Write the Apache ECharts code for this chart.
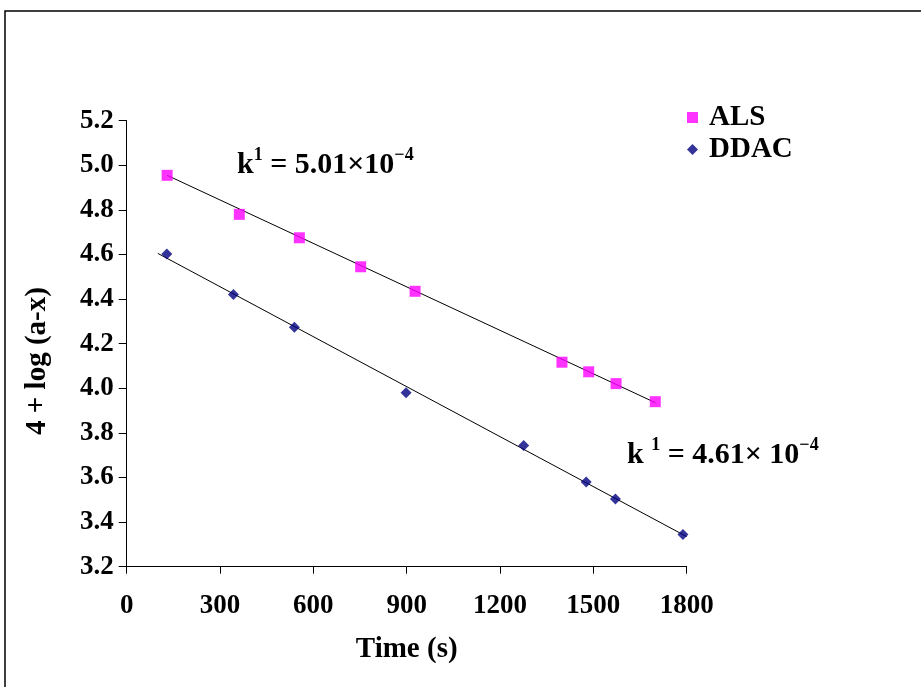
<!DOCTYPE html>
<html>
<head>
<meta charset="utf-8">
<script src="https://cdn.jsdelivr.net/npm/echarts@6/dist/echarts.min.js"></script>
<style>html,body{margin:0;padding:0;background:#fff}#c{width:921px;height:687px}</style>
</head>
<body>
<div id="c"></div>
<script>
// Data
const alsTime = [130, 362, 555, 752, 927, 1399, 1485, 1573, 1699];
const alsValue = [4.955, 4.78, 4.675, 4.545, 4.435, 4.117, 4.074, 4.021, 3.94];
const ddacTime = [129, 343, 539, 898, 1276, 1477, 1571, 1788];
const ddacValue = [4.602, 4.421, 4.274, 3.98, 3.744, 3.58, 3.504, 3.344];
// trend line end points
const alsTrendTime = [130, 1700];
const alsTrendValue = [4.955, 3.935];
const ddacTrendTime = [100, 1800];
const ddacTrendValue = [4.605, 3.335];
const xTicks = [0, 300, 600, 900, 1200, 1500, 1800];
const yTicks = [3.2, 3.4, 3.6, 3.8, 4.0, 4.2, 4.4, 4.6, 4.8, 5.0, 5.2];

const zip = (a, b) => a.map((v, i) => [v, b[i]]);
const FONT = '"Liberation Serif", "Times New Roman", serif';

const chart = echarts.init(document.getElementById('c'), null, {renderer: 'canvas'});
chart.setOption({
  backgroundColor: '#fff',
  animation: false,
  grid: {left: 126.7, right: 234.3, top: 120.7, bottom: 120.3, containLabel: false},
  legend: {
    left: 687, top: 103, orient: 'vertical', padding: 0,
    itemWidth: 11, itemHeight: 11, itemGap: 3,
    data: [{name: 'ALS', icon: 'rect'}, {name: 'DDAC', icon: 'diamond'}],
    textStyle: {fontFamily: FONT, fontWeight: 'bold', fontSize: 29, color: '#000', padding: [0, 0, 0, 6]}
  },
  xAxis: {
    type: 'value', min: xTicks[0], max: xTicks[xTicks.length - 1], interval: 300,
    name: 'Time (s)', nameLocation: 'middle', nameGap: 68,
    nameTextStyle: {fontFamily: FONT, fontWeight: 'bold', fontSize: 29, color: '#000'},
    axisLine: {show: true, lineStyle: {color: '#000', width: 1}},
    axisTick: {show: true, length: 7, inside: false, lineStyle: {color: '#000'}},
    axisLabel: {margin: 26, fontFamily: FONT, fontWeight: 'bold', fontSize: 27, color: '#000',
      formatter: v => String(v)},
    splitLine: {show: false}
  },
  yAxis: {
    type: 'value', min: yTicks[0], max: yTicks[yTicks.length - 1], interval: 0.2,
    axisLine: {show: true, lineStyle: {color: '#000', width: 1}},
    axisTick: {show: true, length: 8, inside: false, lineStyle: {color: '#000'}},
    axisLabel: {margin: 13, fontFamily: FONT, fontWeight: 'bold', fontSize: 27, color: '#000',
      formatter: v => v.toFixed(1)},
    splitLine: {show: false}
  },
  series: [
    {name: 'ALS trend', type: 'line', data: zip(alsTrendTime, alsTrendValue), showSymbol: false,
      lineStyle: {color: '#000', width: 1}, silent: true, z: 1},
    {name: 'DDAC trend', type: 'line', data: zip(ddacTrendTime, ddacTrendValue), showSymbol: false,
      lineStyle: {color: '#000', width: 1}, silent: true, z: 1},
    {name: 'ALS', type: 'scatter', data: zip(alsTime, alsValue), symbol: 'rect', symbolSize: 11,
      itemStyle: {color: '#FF00FF'}, z: 3},
    {name: 'DDAC', type: 'scatter', data: zip(ddacTime, ddacValue), symbol: 'diamond', symbolSize: 11,
      itemStyle: {color: '#000080'}, z: 3}
  ],
  graphic: [
    {type: 'rect', shape: {x: 5, y: 11, width: 960, height: 720}, style: {fill: 'none', stroke: '#000', lineWidth: 1.5}, z: 0, silent: true},
    {type: 'text', x: 38, y: 361, rotation: Math.PI / 2, style: {
      text: '4 + log (a-x)', fontFamily: FONT, fontWeight: 'bold', fontSize: 29, fill: '#000',
      align: 'center', verticalAlign: 'middle'}},
    {type: 'text', left: 237, top: 146, style: {
      text: '{b|k}{s|1}{b| = 5.01×10}{s|−4}',
      rich: {
        b: {fontFamily: FONT, fontWeight: 'bold', fontSize: 30, fill: '#000', verticalAlign: 'bottom', lineHeight: 34},
        s: {fontFamily: FONT, fontWeight: 'bold', fontSize: 18, fill: '#000', verticalAlign: 'top', lineHeight: 34}
      }}},
    {type: 'text', left: 627, top: 436, style: {
      text: '{b|k }{s|1}{b| = 4.61× 10}{s|−4}',
      rich: {
        b: {fontFamily: FONT, fontWeight: 'bold', fontSize: 30, fill: '#000', verticalAlign: 'bottom', lineHeight: 34},
        s: {fontFamily: FONT, fontWeight: 'bold', fontSize: 18, fill: '#000', verticalAlign: 'top', lineHeight: 34}
      }}}
  ]
});
</script>
</body>
</html>
